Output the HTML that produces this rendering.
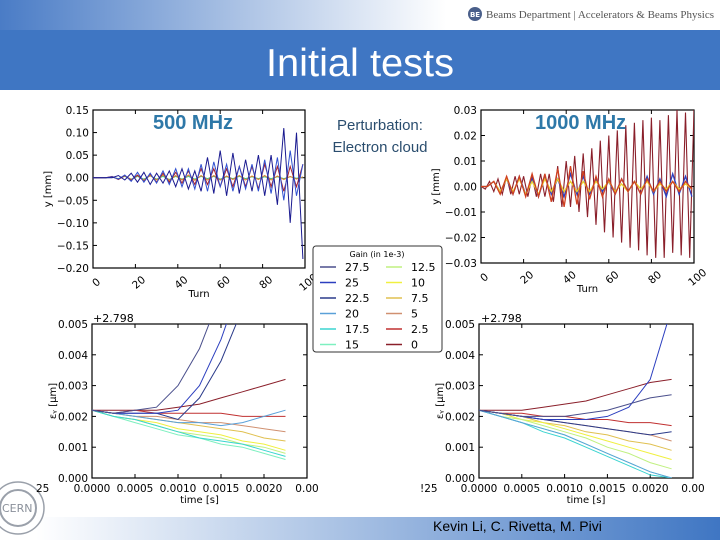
<!DOCTYPE html>
<html><head><meta charset="utf-8">
<style>
html,body{margin:0;padding:0;width:720px;height:540px;overflow:hidden;background:#fff;font-family:"Liberation Sans","DejaVu Sans",sans-serif}
svg text{font-family:"DejaVu Sans","Liberation Sans",sans-serif}
</style></head>
<body>
<svg id="s" width="720" height="540" viewBox="0 0 720 540" xmlns="http://www.w3.org/2000/svg">
<defs>
<linearGradient id="gTop" x1="0" x2="1" y1="0" y2="0"><stop offset="0" stop-color="#4a7cc6"/><stop offset="0.62" stop-color="#ffffff"/><stop offset="1" stop-color="#ffffff"/></linearGradient>
<linearGradient id="gBot" x1="0" x2="1" y1="0" y2="0"><stop offset="0.05" stop-color="#ffffff"/><stop offset="1" stop-color="#3f76c3"/></linearGradient>
<clipPath id="cTL"><rect x="93" y="110" width="212" height="158"/></clipPath>
<clipPath id="cTR"><rect x="481" y="110" width="213" height="153"/></clipPath>
<clipPath id="cBL"><rect x="92" y="324" width="215" height="154"/></clipPath>
<clipPath id="cBR"><rect x="479" y="324" width="214" height="154"/></clipPath>
</defs>
<rect x="0" y="0" width="720" height="30" fill="url(#gTop)"/>
<circle cx="475" cy="14" r="7" fill="#4a5f8a"/>
<text x="475" y="17" font-size="7" fill="#fff" text-anchor="middle" font-weight="bold">BE</text>
<text x="486" y="18" font-size="10" fill="#555" textLength="228" lengthAdjust="spacingAndGlyphs" style="font-family:'Liberation Serif',serif">Beams Department | Accelerators &amp; Beams Physics</text>
<rect x="0" y="30" width="720" height="60" fill="#3f76c3"/>
<text x="360" y="76" font-size="39" fill="#fff" text-anchor="middle" textLength="188" lengthAdjust="spacingAndGlyphs" style="font-family:'Liberation Sans',sans-serif">Initial tests</text>
<rect x="0" y="517" width="720" height="23" fill="url(#gBot)"/>
<text x="433" y="531" font-size="14" fill="#000" style="font-family:'Liberation Sans',sans-serif">Kevin Li, C. Rivetta, M. Pivi</text>
<g fill="none" stroke="#9aa0aa" stroke-width="2">
<circle cx="18" cy="508" r="18"/><circle cx="18" cy="508" r="26" stroke-width="1.5"/>
</g>
<text x="2" y="512" font-size="11" fill="#8a909a">CERN</text>
<g id="plots"></g>
<text x="153" y="129" font-size="20" font-weight="bold" fill="#2e78a8" style="font-family:'Liberation Sans',sans-serif">500 MHz</text>
<text x="535" y="129" font-size="20" font-weight="bold" fill="#2e78a8" style="font-family:'Liberation Sans',sans-serif">1000 MHz</text>
<text x="380" y="130" font-size="15" fill="#2a4d6e" text-anchor="middle" style="font-family:'Liberation Sans',sans-serif">Perturbation:</text>
<text x="380" y="152" font-size="15" fill="#2a4d6e" text-anchor="middle" style="font-family:'Liberation Sans',sans-serif">Electron cloud</text>
<g id="legend"></g>
</svg>
<script>
const gainLabels=["27.5","25","22.5","20","17.5","15","12.5","10","7.5","5","2.5","0"];
const gainColors=["#4a4f8c","#2c3fbf","#2a3a8a","#5aa0d8","#3ad4d0","#7ef0c0","#c0f080","#f0f040","#e0c050","#d09070","#c03030","#8a1f2a"];
const turnsA=[0,3,6,9,12,15,18,21,24,27,30,33,36,39,42,45,48,51,54,57,60,63,66,69,72,75,78,81,84,87,90,93,96,99];
const tlNavy=[0,0,0,0,.005,-.005,.01,-.01,.012,-.015,.01,-.012,.015,-.02,.02,-.025,.015,-.03,.045,-.035,.06,-.04,.055,-.035,.04,-.03,.05,-.04,.05,-.06,.11,-.1,.1,-.18];
const tlBlue=[0,0,0,.002,-.003,.006,-.008,.012,-.01,.01,-.012,.015,-.015,.02,-.02,.02,-.025,.03,-.03,.035,-.02,.03,-.03,.025,-.025,.03,-.03,.04,-.035,.045,-.05,.06,-.04,.03];
const tlRed=[0,0,0,.003,-.004,.005,-.006,.006,-.008,.008,-.01,.01,-.01,.012,-.012,.015,-.015,.02,-.015,.02,-.02,.02,-.02,.025,-.02,.025,-.025,.03,-.02,.025,-.03,.025,-.02,.03];
const tlOrange=[0,0,0,.002,-.003,.004,-.004,.005,-.005,.005,-.005,.006,-.006,.005,-.005,.006,-.006,.005,-.005,.005,-.005,.004,-.004,.005,-.005,.004,-.004,.005,-.005,.004,-.004,.003,-.003,.002];
const tlGreen=[0,0,0,.001,-.002,.003,-.003,.003,-.003,.004,-.003,.003,-.004,.003,-.003,.003,-.003,.003,-.002,.003,-.003,.002,-.002,.003,-.002,.002,-.002,.002,-.002,.002,-.002,.002,-.001,.001];
const turnsB=[0,2,4,6,8,10,12,14,16,18,20,22,24,26,28,30,32,34,36,38,40,42,44,46,48,50,52,54,56,58,60,62,64,66,68,70,72,74,76,78,80,82,84,86,88,90,92,94,96,98,100];
const trDarkRed=[0,-.001,.002,-.002,.003,-.003,.004,-.003,.004,-.003,.004,-.004,.004,-.004,.005,-.004,.005,-.006,.008,-.008,.01,-.008,.012,-.01,.013,-.012,.015,-.015,.018,-.018,.02,-.02,.022,-.022,.024,-.024,.025,-.025,.026,-.027,.027,-.028,.026,-.028,.028,-.026,.03,-.027,.029,-.028,.03];
const trBlue=[0,0,.002,-.002,.003,-.003,.004,-.003,.003,-.004,.004,-.003,.003,-.004,.005,-.003,.004,-.003,.003,-.002,.002,-.003,.003,-.002,.002,-.003,.004,-.003,.003,-.004,.005,-.003,.004,-.004];
const trYellow=[0,0,.002,-.002,.003,-.002,.003,-.003,.002,-.003,.003,-.002,.003,-.002,.002,-.002,.002,-.002,.002,-.001,.002,-.002,.001,-.002,.002,-.001,.002,-.002,.001,-.001,.002,-.001,.001,-.001];
const trRed=[0,0,.002,-.003,.004,-.003,.004,-.004,.005,-.004,.005,-.006,.007,-.008,.008,-.007,.006,-.005,.004,-.004,.003,-.003,.003,-.002,.002,-.003,.003,-.002,.002,-.002,.002,-.002,.002,-.001];
const times=[0,0.00025,0.0005,0.00075,0.001,0.00125,0.0015,0.00175,0.002,0.00225];
const blSeries=[
[.0022,.0021,.0022,.0023,.003,.0042,.006,.008,.01,.012],
[.0022,.0021,.0021,.0021,.0022,.0030,.0045,.0065,.009,.011],
[.0022,.0021,.0021,.0021,.0019,.0026,.0038,.0055,.007,.009],
[.0022,.0021,.0020,.0019,.0018,.0018,.0017,.0018,.0020,.0022],
[.0022,.0020,.0019,.0017,.0015,.0013,.0012,.0011,.0009,.0007],
[.0022,.0020,.0018,.0016,.0014,.0013,.0011,.0010,.0008,.0006],
[.0022,.0020,.0019,.0017,.0015,.0014,.0013,.0011,.0010,.0008],
[.0022,.0020,.0019,.0018,.0016,.0015,.0014,.0012,.0011,.0009],
[.0022,.0021,.0020,.0019,.0018,.0017,.0016,.0015,.0013,.0012],
[.0022,.0021,.0020,.0020,.0019,.0018,.0018,.0017,.0016,.0015],
[.0022,.0021,.0022,.0021,.0021,.0021,.0021,.0020,.0020,.0020],
[.0022,.0022,.0022,.0022,.0023,.0024,.0026,.0028,.0030,.0032]];
const brSeries=[
[.0022,.0021,.0020,.0020,.0020,.0021,.0022,.0024,.0026,.0027],
[.0022,.0021,.0020,.0019,.0019,.0019,.0020,.0023,.0032,.0055],
[.0022,.0021,.0020,.0019,.0018,.0017,.0016,.0015,.0014,.0015],
[.0022,.0020,.0018,.0016,.0014,.0011,.0008,.0005,.0002,.0000],
[.0022,.0020,.0018,.0015,.0013,.0010,.0007,.0004,.0001,.0000],
[.0022,.0020,.0018,.0016,.0014,.0011,.0008,.0005,.0002,.0000],
[.0022,.0020,.0019,.0017,.0015,.0013,.0010,.0008,.0005,.0003],
[.0022,.0021,.0019,.0018,.0016,.0014,.0012,.0010,.0008,.0006],
[.0022,.0021,.0020,.0018,.0017,.0015,.0014,.0012,.0011,.0009],
[.0022,.0021,.0020,.0019,.0018,.0017,.0016,.0015,.0014,.0012],
[.0022,.0021,.0021,.0020,.0020,.0019,.0019,.0018,.0018,.0017],
[.0022,.0022,.0022,.0023,.0024,.0025,.0027,.0029,.0031,.0032]];
const tlYTicks=[0.15,0.10,0.05,0.00,-0.05,-0.10,-0.15,-0.20];
const trYTicks=[0.03,0.02,0.01,0.00,-0.01,-0.02,-0.03];
const turnTicks=[0,20,40,60,80,100];
const emitYTicks=[0.005,0.004,0.003,0.002,0.001,0.000];
const timeTicks=[0,0.0005,0.001,0.0015,0.002,0.0025];
const timeTickLabels=["0.0000","0.0005","0.0010","0.0015","0.0020","0.00"];

const NS="http://www.w3.org/2000/svg";
const root=document.getElementById('plots');
function mk(tag,attrs,parent){const e=document.createElementNS(NS,tag);for(const k in attrs)e.setAttribute(k,attrs[k]);(parent||root).appendChild(e);return e;}
function lin(d0,d1,r0,r1){return v=>r0+(v-d0)/(d1-d0)*(r1-r0);}

function axes(id,box,xs,ys,xt,xtl,yt,ytl,xlabel,ylabel,rot){
  const g=mk('g',{});
  
  
  const f=mk('rect',{x:box.x,y:box.y,width:box.w,height:box.h,fill:'#fff',stroke:'#000','stroke-width':1.2},g);
  
  
  yt.forEach((v,i)=>{const y=ys(v);
    mk('line',{x1:box.x,x2:box.x+4,y1:y,y2:y,stroke:'#000'},g);
    mk('line',{x1:box.x+box.w,x2:box.x+box.w-4,y1:y,y2:y,stroke:'#000'},g);
    const t=mk('text',{x:box.x-4,y:y+4,'font-size':10.5,'text-anchor':'end',fill:'#000'},g);t.textContent=ytl[i];
    
    });
  xt.forEach((v,i)=>{const x=xs(v);
    mk('line',{x1:x,x2:x,y1:box.y+box.h,y2:box.y+box.h-4,stroke:'#000'},g);
    mk('line',{x1:x,x2:x,y1:box.y,y2:box.y+4,stroke:'#000'},g);
    let t;
    if(rot){t=mk('text',{x:x+3,y:box.y+box.h+18,'font-size':10.5,'text-anchor':'middle',fill:'#000',transform:`rotate(-40 ${x+3} ${box.y+box.h+14})`},g);}
    else{t=mk('text',{x:x,y:box.y+box.h+14,'font-size':10.5,'text-anchor':'middle',fill:'#000'},g);}
    t.textContent=xtl[i];
    
    });
  const xl=mk('text',{x:box.x+box.w/2,y:box.y+box.h+(rot?29:25),'font-size':10,'text-anchor':'middle',fill:'#000'},g);xl.textContent=xlabel;
  
  
  const lx=rot?box.x-42:box.x-36, ly=box.y+box.h/2;
  const yl=mk('text',{x:lx,y:ly,'font-size':10,'text-anchor':'middle',fill:'#000',transform:`rotate(-90 ${lx} ${ly})`},g);yl.textContent=ylabel;
  
  
  return g;
}
function series(id,clip,xv,yv,xs,ys,color,w){
  const d=yv.map((v,i)=>(i?'L':'M')+xs(xv[i]).toFixed(1)+','+ys(v).toFixed(1)).join('');
  const p=mk('path',{d:d,fill:'none',stroke:color,'stroke-width':w||1,'clip-path':`url(#${clip})`});
  
  
}
{const b={x:93,y:110,w:212,h:158};const xs=lin(0,100,b.x,b.x+b.w),ys=lin(0.15,-0.20,b.y,b.y+b.h);
 axes('tl',b,xs,ys,turnTicks,turnTicks.map(String),tlYTicks,tlYTicks.map(v=>v.toFixed(2).replace('-','\u2212')),'Turn','y [mm]',true);
 series('tl-series-15','cTL',turnsA,tlGreen,xs,ys,'#40c890');
 series('tl-series-5','cTL',turnsA,tlOrange,xs,ys,'#e08030');
 series('tl-series-2-5','cTL',turnsA,tlRed,xs,ys,'#a02030');
 series('tl-series-25','cTL',turnsA,tlBlue,xs,ys,'#3050d0');
 series('tl-series-27-5','cTL',turnsA,tlNavy,xs,ys,'#1a1a90');}
{const b={x:481,y:110,w:213,h:153};const xs=lin(0,100,b.x,b.x+b.w),ys=lin(0.03,-0.03,b.y,b.y+b.h);
 axes('tr',b,xs,ys,turnTicks,turnTicks.map(String),trYTicks,trYTicks.map(v=>v.toFixed(2).replace('-','\u2212')),'Turn','y [mm]',true);
 series('tr-series-0','cTR',turnsB,trDarkRed,xs,ys,'#8a1f2a',1.1);
 series('tr-series-25','cTR',turnsA,trBlue,xs,ys,'#2c3fbf',1.3);
 series('tr-series-10','cTR',turnsA,trYellow,xs,ys,'#e8d030',1.3);
 series('tr-series-2-5','cTR',turnsA,trRed,xs,ys,'#d04020',1.3);}
{const b={x:92,y:324,w:215,h:154};const xs=lin(0,0.0025,b.x,b.x+b.w),ys=lin(0.005,0,b.y,b.y+b.h);
 axes('bl',b,xs,ys,timeTicks,timeTickLabels,emitYTicks,emitYTicks.map(v=>v.toFixed(3)),'time [s]','\u03b5\u1d67 [\u03bcm]',false);
 for(let i=blSeries.length-1;i>=0;i--)series('bl-series-gain-'+gainLabels[i],'cBL',times,blSeries[i],xs,ys,gainColors[i]);
 const t=mk('text',{x:93,y:322,'font-size':11,fill:'#000'});t.textContent='+2.798';
 
 }
{const b={x:479,y:324,w:214,h:154};const xs=lin(0,0.0025,b.x,b.x+b.w),ys=lin(0.005,0,b.y,b.y+b.h);
 axes('br',b,xs,ys,timeTicks,timeTickLabels,emitYTicks,emitYTicks.map(v=>v.toFixed(3)),'time [s]','\u03b5\u1d67 [\u03bcm]',false);
 for(let i=brSeries.length-1;i>=0;i--)series('br-series-gain-'+gainLabels[i],'cBR',times,brSeries[i],xs,ys,gainColors[i]);
 const t=mk('text',{x:481,y:322,'font-size':11,fill:'#000'});t.textContent='+2.798';
 
 }
{const a=mk('text',{x:36,y:492,'font-size':10.5,fill:'#000'});a.textContent='25';
 
 
 const c=mk('text',{x:420,y:492,'font-size':10.5,fill:'#000'});c.textContent='!25';
 
 }
{const lg=document.getElementById('legend');
 mk('rect',{x:313,y:246,width:129,height:106,rx:3,fill:'#fff',stroke:'#333','stroke-width':1},lg);
 const tt=mk('text',{x:377,y:257,'font-size':8,'text-anchor':'middle',fill:'#000'},lg);tt.textContent='Gain (in 1e-3)';
 
 
 gainLabels.forEach((lab,i)=>{const col=i<6?0:1,row=i%6;const x=320+col*66,y=267+row*15.5;
  const e=mk('g',{},lg);
  
  
  mk('line',{x1:x,x2:x+16,y1:y,y2:y,stroke:gainColors[i],'stroke-width':1.5},e);
  const t=mk('text',{x:x+25,y:y+4,'font-size':11,fill:'#000'},e);t.textContent=lab;});}
</script>
</body></html>
